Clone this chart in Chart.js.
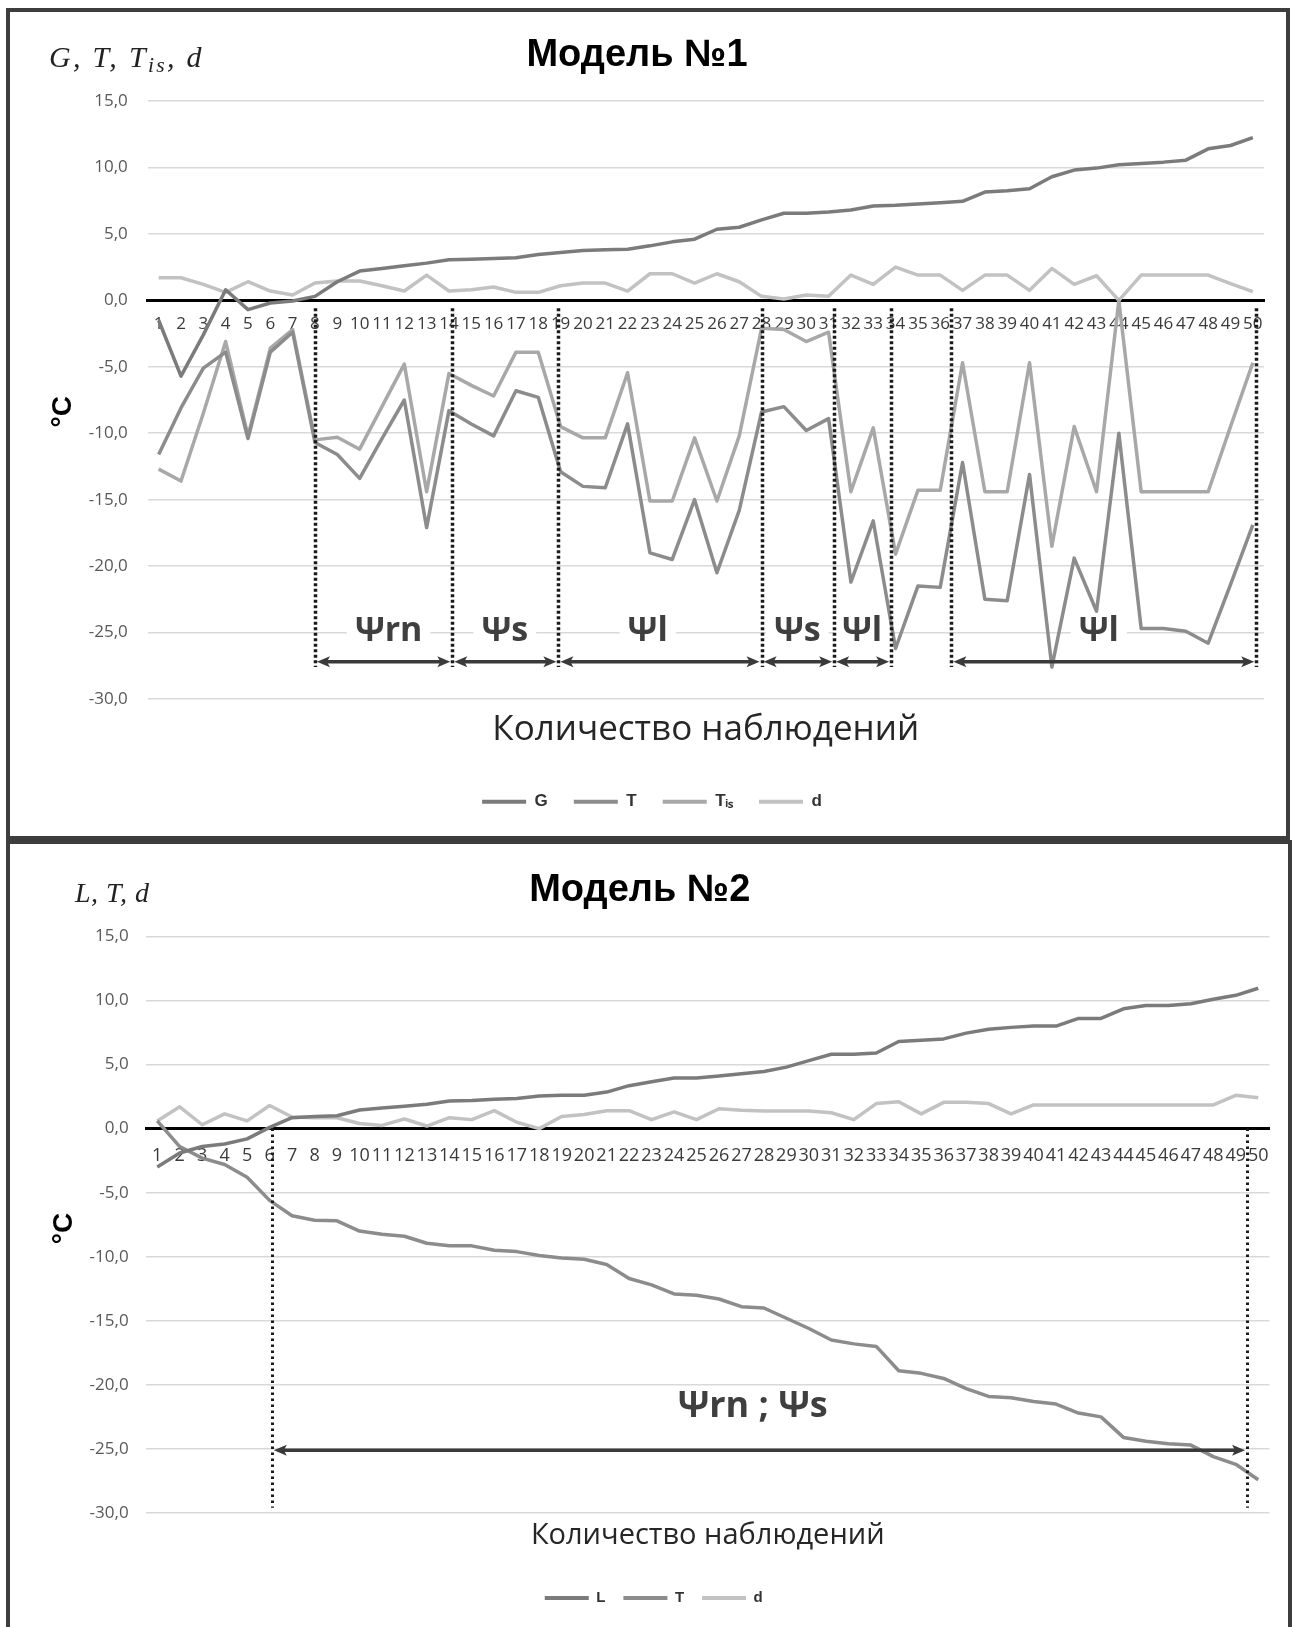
<!DOCTYPE html>
<html><head><meta charset="utf-8">
<script src="https://cdn.jsdelivr.net/npm/chart.js@4/dist/chart.umd.min.js"></script>
<style>
html,body{margin:0;padding:0;background:#fff;}
body{width:1294px;height:1627px;position:relative;overflow:hidden;}
.panel{position:absolute;border:4px solid #3d3d3d;background:#fff;box-sizing:border-box;}
#p1{left:6px;top:8px;width:1284px;height:832px;}
#p2{left:6px;top:840px;width:1286px;height:800px;}
canvas{position:absolute;left:0;top:0;}
.vars{position:absolute;font-family:'Liberation Serif',serif;font-style:italic;color:#222;white-space:nowrap;}
.vars sub{font-size:72%;vertical-align:-0.25em;line-height:0;}
</style></head>
<body>
<div class="panel" id="p1"><canvas id="c1" width="1276" height="824"></canvas></div>
<div class="panel" id="p2"><canvas id="c2" width="1278" height="788"></canvas></div>
<div class="vars" style="left:49px;top:41.5px;font-size:30px;line-height:30px;letter-spacing:2.3px">G, T, T<sub>is</sub>, d</div>
<div class="vars" style="left:75px;top:879px;font-size:28px;line-height:28px;letter-spacing:0.5px">L, T, d</div>
<script>
// ---- categories ----
const obs = ['1','2','3','4','5','6','7','8','9','10','11','12','13','14','15','16','17','18','19','20',
  '21','22','23','24','25','26','27','28','29','30','31','32','33','34','35','36','37','38','39','40',
  '41','42','43','44','45','46','47','48','49','50'];

// ---- Model 1 series ----
const gVals = [-1.5,-5.7,-2.6,0.8,-0.7,-0.2,-0.05,0.3,1.4,2.2,2.4,2.6,2.8,3.05,3.1,3.15,3.2,3.45,3.6,3.75,
  3.8,3.85,4.1,4.4,4.6,5.35,5.5,6.05,6.55,6.55,6.65,6.8,7.1,7.15,7.25,7.35,7.45,8.15,8.25,8.4,
  9.3,9.8,9.95,10.2,10.3,10.4,10.55,11.4,11.65,12.25];
const tVals1 = [-11.6,-8.1,-5.1,-3.9,-10.4,-3.9,-2.4,-10.7,-11.6,-13.4,-10.4,-7.5,-17.1,-8.3,-9.3,-10.2,-6.8,-7.3,-12.9,-14.0,
  -14.1,-9.3,-19.0,-19.5,-15.0,-20.5,-15.8,-8.4,-8.0,-9.8,-8.9,-21.2,-16.6,-26.2,-21.5,-21.6,-12.2,-22.5,-22.6,-13.1,
  -27.6,-19.4,-23.4,-10.0,-24.7,-24.7,-24.9,-25.8,-21.4,-16.9];
const tisVals = [-12.7,-13.6,-8.5,-3.1,-10.2,-3.6,-2.2,-10.5,-10.3,-11.2,-8.0,-4.8,-14.4,-5.5,-6.4,-7.2,-3.9,-3.9,-9.5,-10.35,
  -10.35,-5.45,-15.1,-15.1,-10.35,-15.1,-10.2,-2.1,-2.2,-3.1,-2.4,-14.4,-9.6,-19.1,-14.3,-14.3,-4.7,-14.4,-14.4,-4.7,
  -18.5,-9.5,-14.4,0.0,-14.4,-14.4,-14.4,-14.4,-9.5,-4.7];
const dVals1 = [1.7,1.7,1.2,0.6,1.4,0.7,0.4,1.3,1.45,1.45,1.1,0.7,1.9,0.7,0.8,1.0,0.6,0.6,1.1,1.3,
  1.3,0.7,2.0,2.0,1.3,2.0,1.4,0.3,0.1,0.4,0.3,1.9,1.2,2.5,1.9,1.9,0.75,1.9,1.9,0.75,
  2.4,1.2,1.85,0.0,1.9,1.9,1.9,1.9,1.25,0.65];

// ---- Model 2 series ----
const lVals = [-3.0,-1.9,-1.4,-1.2,-0.8,0.1,0.85,0.95,1.0,1.45,1.6,1.75,1.9,2.15,2.2,2.3,2.35,2.55,2.6,2.6,
  2.85,3.35,3.65,3.95,3.95,4.1,4.28,4.46,4.8,5.3,5.8,5.8,5.9,6.8,6.9,7.0,7.45,7.75,7.9,8.0,
  8.0,8.6,8.6,9.35,9.6,9.6,9.75,10.1,10.4,10.95];
const tVals2 = [0.6,-1.4,-2.3,-2.8,-3.8,-5.6,-6.8,-7.15,-7.2,-8.0,-8.25,-8.4,-8.95,-9.15,-9.15,-9.5,-9.6,-9.9,-10.1,-10.2,
  -10.6,-11.7,-12.2,-12.9,-13.0,-13.3,-13.9,-14.0,-14.8,-15.6,-16.5,-16.8,-17.0,-18.9,-19.1,-19.5,-20.3,-20.9,-21.0,-21.3,
  -21.5,-22.2,-22.5,-24.1,-24.4,-24.6,-24.7,-25.6,-26.2,-27.4];
const dVals2 = [0.6,1.7,0.3,1.15,0.6,1.8,0.9,0.85,0.85,0.4,0.25,0.75,0.2,0.85,0.7,1.4,0.5,0.0,0.95,1.1,
  1.4,1.4,0.7,1.3,0.7,1.55,1.43,1.37,1.37,1.37,1.24,0.7,1.95,2.1,1.15,2.05,2.05,1.95,1.15,1.85,
  1.85,1.85,1.85,1.85,1.85,1.85,1.85,1.85,2.6,2.4];

// ---- zone annotations (observation-number units / °C) ----
const bounds1 = [8, 14.15, 18.9, 28, 31.25, 33.8, 36.5, 50.15];
const spans1 = [[8,14.15],[14.15,18.9],[18.9,28],[28,31.25],[31.25,33.8],[36.5,50.15]];
const zoneNames1 = ['Ψrn','Ψs','Ψl','Ψs','Ψl','Ψl'];
const zonePos1 = [11.3, 16.5, 22.9, 29.6, 32.5, 43.1];
const bounds2 = [6.1, 49.5];
const spans2 = [[6.1, 49.5]];
const zoneNames2 = ['Ψrn ; Ψs'];
const zonePos2 = [27.5];

const fmt = v => v.toFixed(1).replace('.', ',');

const zones = {
  id: 'zones',
  afterLayout(chart, args, o) {
    if (chart.legend && o.legendShift) { chart.legend.left += o.legendShift; chart.legend.right += o.legendShift; }
  },
  beforeDatasetsDraw(chart, args, o) {
    const {ctx} = chart; const x = chart.scales.x, y = chart.scales.y;
    const px = k => x.getPixelForValue(k - 1);
    ctx.save();
    ctx.font = o.font; ctx.textAlign = 'center'; ctx.textBaseline = 'middle';
    const ty = y.getPixelForValue(o.nameY);
    o.names.forEach((n, i) => {
      const cx = px(o.namePos[i]); const w = ctx.measureText(n).width;
      ctx.fillStyle = '#fff'; ctx.fillRect(cx - w/2 - 8, ty - 16, w + 16, 32);
      ctx.fillStyle = '#3f3f3f'; ctx.fillText(n, cx, ty);
    });
    ctx.restore();
  },
  afterDatasetsDraw(chart, args, o) {
    const {ctx} = chart; const x = chart.scales.x, y = chart.scales.y;
    const px = k => x.getPixelForValue(k - 1);
    ctx.save();
    ctx.strokeStyle = '#1a1a1a'; ctx.lineWidth = o.dotW; ctx.setLineDash(o.dash);
    o.bounds.forEach(b => {
      const X = Math.round(px(b)) + 0.5;
      ctx.beginPath(); ctx.moveTo(X, y.getPixelForValue(o.dotFrom)); ctx.lineTo(X, y.getPixelForValue(o.dotTo)); ctx.stroke();
    });
    ctx.setLineDash([]);
    ctx.strokeStyle = '#3a3a3a'; ctx.fillStyle = '#3a3a3a'; ctx.lineWidth = o.arrowW;
    const ay = y.getPixelForValue(o.arrowY);
    const head = (xt, dir) => {
      ctx.beginPath(); ctx.moveTo(xt, ay); ctx.lineTo(xt + dir*13, ay - 5.5); ctx.lineTo(xt + dir*10, ay);
      ctx.lineTo(xt + dir*13, ay + 5.5); ctx.closePath(); ctx.fill();
    };
    o.spans.forEach(([a, b]) => {
      const x1 = px(a) + 2, x2 = px(b) - 2;
      ctx.beginPath(); ctx.moveTo(x1 + 8, ay); ctx.lineTo(x2 - 8, ay); ctx.stroke();
      head(x1, 1); head(x2, -1);
    });
    ctx.restore();
  }
};

const legendLabels = (size, pad) => ({
  boxWidth: 44, boxHeight: 4, padding: pad, color: '#333',
  font: {family: 'Liberation Sans', size: size, weight: 'bold'},
  generateLabels(chart) {
    const items = Chart.defaults.plugins.legend.labels.generateLabels(chart);
    items.forEach(i => { i.lineWidth = 0; i.fillStyle = i.strokeStyle; });
    return items;
  }
});

function ds(label, data, color) {
  return {label, data, borderColor: color, backgroundColor: color, borderWidth: 3.5, pointRadius: 0, pointHoverRadius: 0, tension: 0, borderJoinStyle: 'round'};
}

function makeOptions(p) {
  return {
    responsive: false, animation: false, devicePixelRatio: 1,
    layout: {padding: {left: 0, right: p.padRight, top: 0, bottom: p.padBottom}},
    plugins: {
      title: {display: true, text: p.title, color: '#000', font: {family: 'Liberation Sans', size: 38, weight: 'bold'}, padding: {top: p.titleTop, bottom: p.titleBottom}},
      legend: {position: 'bottom', labels: legendLabels(p.legendSize, p.legendPad)},
      tooltip: {enabled: false},
      zones: p.zones
    },
    scales: {
      x: {type: 'category', position: {y: 0}, offset: true,
        grid: {display: false, drawTicks: false}, border: {display: true, color: '#000', width: 3},
        ticks: {autoSkip: false, maxRotation: 0, minRotation: 0, padding: p.xTickPad, color: '#3a3a3a', font: {family: 'Open Sans', size: p.xTickSize}}},
      xb: {type: 'category', position: 'bottom', offset: true,
        grid: {display: false, drawTicks: false}, border: {display: false}, ticks: {display: false},
        title: {display: true, text: 'Количество наблюдений', color: '#262626', font: {family: 'Open Sans', size: p.xTitleSize}, padding: {top: p.xTitleTop, bottom: p.xTitleBottom}}},
      y: {min: -30, max: 15,
        ticks: {stepSize: 5, padding: p.yTickPad, color: '#595959', font: {family: 'Open Sans', size: 17}, callback: v => fmt(v)},
        grid: {color: '#d9d9d9', lineWidth: 1.5, drawTicks: false}, border: {display: false},
        title: {display: true, text: p.yTitle, color: '#000', font: {family: 'Liberation Sans', size: 28, weight: 'bold'}, padding: {top: p.yTitlePad, bottom: 0}},
        afterFit(s) { s.width = p.yWidth; }}
    }
  };
}

new Chart(document.getElementById('c1'), {
  type: 'line',
  data: {labels: obs, datasets: [
    ds('G', gVals, '#7b7b7b'),
    ds('T', tVals1, '#8c8c8c'),
    ds('Tᵢₛ', tisVals, '#a8a8a8'),
    ds('d', dVals1, '#c2c2c2')
  ]},
  options: makeOptions({
    title: 'Модель №1', padRight: 22, padBottom: 15.8, titleTop: 20.5, titleBottom: 22.9,
    legendSize: 17, legendPad: 26, xTickPad: 14, xTickSize: 17, xTitleSize: 35, xTitleTop: 10, xTitleBottom: 16.2,
    yTickPad: 19.7, yTitlePad: 36, yWidth: 137.5, yTitle: '°C   ',
    zones: {bounds: bounds1, spans: spans1, names: zoneNames1, namePos: zonePos1, nameY: -24.9, arrowY: -27.2,
      dotFrom: -0.6, dotTo: -27.6, dotW: 3.5, dash: [3, 2.5], arrowW: 3.5, font: 'bold 34px "Open Sans"', legendShift: 15}
  }),
  plugins: [zones]
});

new Chart(document.getElementById('c2'), {
  type: 'line',
  data: {labels: obs, datasets: [
    ds('L', lVals, '#7b7b7b'),
    ds('T', tVals2, '#8c8c8c'),
    ds('d', dVals2, '#c2c2c2')
  ]},
  options: makeOptions({
    title: 'Модель №2', padRight: 18.5, padBottom: 16.5, titleTop: 23.5, titleBottom: 23.3,
    legendSize: 15, legendPad: 18, xTickPad: 16, xTickSize: 18, xTitleSize: 29, xTitleTop: 5.6, xTitleBottom: 19.1,
    yTickPad: 17.4, yTitlePad: 37, yWidth: 136, yTitle: '°C ',
    zones: {bounds: bounds2, spans: spans2, names: zoneNames2, namePos: zonePos2, nameY: -21.7, arrowY: -25.1,
      dotFrom: 0, dotTo: -29.6, dotW: 3, dash: [2.5, 3.5], arrowW: 3.5, font: 'bold 36px "Open Sans"', legendShift: 14}
  }),
  plugins: [zones]
});
</script>
</body></html>
